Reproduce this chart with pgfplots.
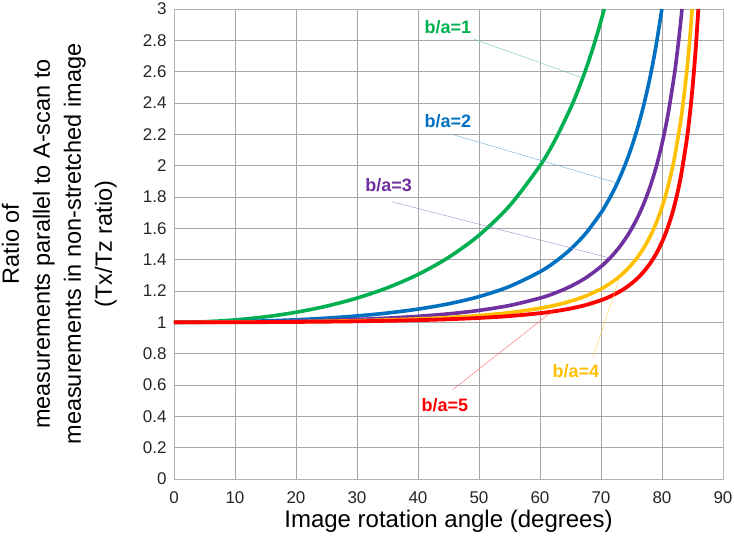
\documentclass[border=0pt]{standalone}
\usepackage{pgfplots}
\pgfplotsset{compat=1.18}
\usepackage{fontspec}
\setmainfont{Liberation Sans}
\definecolor{cgreen}{HTML}{00B050}
\definecolor{cblue}{HTML}{0070C0}
\definecolor{cpurple}{HTML}{7030A0}
\definecolor{cyellow}{HTML}{FFC000}
\definecolor{cred}{HTML}{FF0000}
\begin{document}
\begin{tikzpicture}
\begin{axis}[
  scale only axis, width=549bp, height=470bp,
  xmin=0, xmax=90, ymin=0, ymax=3,
  xtick={0,10,...,90},
  ytick={0,0.2,0.4,0.6,0.8,1,1.2,1.4,1.6,1.8,2,2.2,2.4,2.6,2.8,3},
  grid=major,
  grid style={color=black!35, line width=0.6bp},
  major tick length=0pt,
  axis line style={black!30, line width=0.6bp},
  /pgf/number format/assume math mode=true,
  tick label style={font=\fontsize{17bp}{20bp}\selectfont, text=black!85},
  xticklabel style={yshift=-9bp},
  yticklabel style={xshift=-4bp},
  xlabel={Image rotation angle (degrees)},
  xlabel style={font=\fontsize{24bp}{29bp}\selectfont, at={(axis description cs:0.5,0)}, anchor=north, yshift=-31bp, inner sep=0pt},
  ylabel={Ratio of\\measurements parallel to A-scan to\\measurements in non-stretched image\\(Tx/Tz ratio)},
  ylabel style={font=\fontsize{23.5bp}{31bp}\selectfont, align=center, at={(axis description cs:-0.209,0.5)}, anchor=center, inner sep=0pt},
  clip=true,
]
\addplot[cgreen, line width=3.6bp, smooth] coordinates {
(0,1) (5,1.00382) (10,1.01543) (15,1.03528) (20,1.06418) (25,1.10338) (30,1.15470) (35,1.22077) (40,1.30541) (45,1.41421) (50,1.55572) (55,1.74345) (60,2.00000) (62.5,2.16568) (65,2.36620) (66,2.45859) (67,2.55930) (68,2.66947) (69,2.79043) (70,2.92380) (70.53,3.0)
};
\addplot[cblue, line width=3.6bp, smooth] coordinates {
(0,1) (5,1.00096) (10,1.00388) (15,1.00894) (20,1.01642) (25,1.02682) (30,1.04083) (35,1.05952) (40,1.08445) (45,1.11803) (50,1.16407) (55,1.22879) (60,1.32288) (62.5,1.38656) (65,1.46620) (67.5,1.56752) (70,1.69916) (71,1.76313) (72,1.83522) (73,1.91693) (74,2.01010) (75,2.11709) (76,2.24089) (77,2.38546) (78,2.55605) (79,2.75984) (79.98,3.0)
};
\addplot[cpurple, line width=3.6bp, smooth] coordinates {
(0,1) (5,1.00043) (10,1.00172) (15,1.00398) (20,1.00733) (25,1.01200) (30,1.01835) (35,1.02688) (40,1.03838) (45,1.05409) (50,1.07602) (55,1.10753) (60,1.15470) (62.5,1.18744) (65,1.22923) (67.5,1.28359) (70,1.35600) (71,1.39182) (72,1.43264) (73,1.47943) (74,1.53341) (75,1.59611) (76,1.66954) (77,1.75631) (78,1.85991) (79,1.98512) (80,2.13863) (81,2.33008) (82,2.57398) (82.5,2.72224) (83,2.89310) (83.28,3.0)
};
\addplot[cyellow, line width=3.6bp, smooth] coordinates {
(0,1) (5,1.00024) (10,1.00097) (15,1.00224) (20,1.00413) (25,1.00677) (30,1.01036) (35,1.01521) (40,1.02176) (45,1.03078) (50,1.04344) (55,1.06183) (60,1.08972) (62.5,1.10935) (65,1.13465) (67.5,1.16803) (70,1.21317) (71,1.23578) (72,1.26175) (73,1.29176) (74,1.32670) (75,1.36766) (76,1.41612) (77,1.47398) (78,1.54381) (79,1.62915) (80,1.73500) (81,1.86855) (82,2.04066) (83,2.26840) (83.5,2.41135) (84,2.58025) (84.5,2.78230) (84.95,3.0)
};
\addplot[cred, line width=3.8bp, smooth] coordinates {
(0,1) (5,1.00015) (10,1.00062) (15,1.00144) (20,1.00265) (25,1.00434) (30,1.00664) (35,1.00976) (40,1.01398) (45,1.01980) (50,1.02801) (55,1.04000) (60,1.05830) (62.5,1.07127) (65,1.08810) (67.5,1.11047) (70,1.14103) (71,1.15645) (72,1.17426) (73,1.19497) (74,1.21921) (75,1.24785) (76,1.28197) (77,1.32305) (78,1.37307) (79,1.43480) (80,1.51213) (81,1.61076) (82,1.73929) (83,1.91134) (84,2.14963) (84.5,2.30526) (85,2.49516) (85.5,2.73090) (85.96,3.0)
};
% annotations
\draw[cgreen!60, line width=0.4bp] (axis cs:49.0,2.81) -- (axis cs:67.0,2.56);
\draw[cblue!60, line width=0.4bp] (axis cs:45.6,2.20) -- (axis cs:72.6,1.89);
\draw[cpurple!60, line width=0.4bp] (axis cs:35.7,1.77) -- (axis cs:71.5,1.41);
\draw[cyellow!70, line width=0.4bp] (axis cs:68.7,0.78) -- (axis cs:73.1,1.29);
\draw[cred!60, line width=0.4bp] (axis cs:45.7,0.57) -- (axis cs:62.0,1.07);
\node[text=cgreen, font=\fontsize{18bp}{21bp}\selectfont\bfseries] at (axis cs:44.9,2.885) {b/a=1};
\node[text=cblue, font=\fontsize{18bp}{21bp}\selectfont\bfseries] at (axis cs:44.9,2.285) {b/a=2};
\node[text=cpurple, font=\fontsize{18bp}{21bp}\selectfont\bfseries, fill=white, inner sep=1bp] at (axis cs:35.2,1.876) {b/a=3};
\node[text=cyellow, font=\fontsize{18bp}{21bp}\selectfont\bfseries] at (axis cs:65.9,0.69) {b/a=4};
\node[text=cred, font=\fontsize{18bp}{21bp}\selectfont\bfseries] at (axis cs:44.4,0.47) {b/a=5};
\end{axis}
\pgfresetboundingbox
\path[use as bounding box] (current axis.south west) ++(-174bp,-64bp) rectangle ++(734bp,543bp);
\end{tikzpicture}
\end{document}
